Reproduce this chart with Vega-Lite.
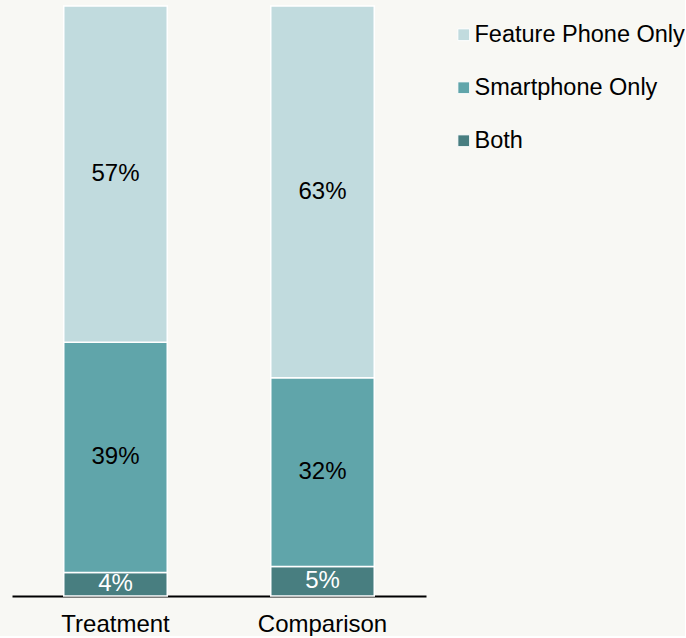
{
  "$schema": "https://vega.github.io/schema/vega-lite/v6.json",
  "width": 414,
  "height": 590,
  "padding": {"left": 12, "top": 5, "right": 0, "bottom": 0},
  "background": "#f8f8f4",
  "config": {
    "view": {"stroke": null},
    "font": "Liberation Sans"
  },
  "data": {
    "values": [
      {"group": "Treatment", "type": "Both", "order": 1, "value": 4},
      {"group": "Treatment", "type": "Smartphone Only", "order": 2, "value": 39},
      {"group": "Treatment", "type": "Feature Phone Only", "order": 3, "value": 57},
      {"group": "Comparison", "type": "Both", "order": 1, "value": 5},
      {"group": "Comparison", "type": "Smartphone Only", "order": 2, "value": 32},
      {"group": "Comparison", "type": "Feature Phone Only", "order": 3, "value": 63}
    ]
  },
  "transform": [
    {"stack": "value", "groupby": ["group"], "sort": [{"field": "order"}], "as": ["y0", "y1"]},
    {"calculate": "(datum.y0 + datum.y1) / 2", "as": "ymid"},
    {"calculate": "datum.value + '%'", "as": "label"}
  ],
  "encoding": {
    "x": {
      "field": "group",
      "type": "nominal",
      "sort": ["Treatment", "Comparison"],
      "scale": {"paddingInner": 0.5, "paddingOuter": 0.25},
      "axis": {
        "title": null,
        "labelAngle": 0,
        "labelFontSize": 24,
        "labelColor": "#000000",
        "labelPadding": 16,
        "ticks": false,
        "domainColor": "#000000",
        "domainWidth": 2
      }
    }
  },
  "layer": [
    {
      "mark": {"type": "bar", "stroke": "#ffffff", "strokeWidth": 1.5},
      "encoding": {
        "y": {"field": "y0", "type": "quantitative", "scale": {"domain": [0, 100], "nice": false}, "axis": null},
        "y2": {"field": "y1"},
        "color": {
          "field": "type",
          "type": "nominal",
          "scale": {
            "domain": ["Feature Phone Only", "Smartphone Only", "Both"],
            "range": ["#c1dbde", "#60a5aa", "#487e80"]
          },
          "legend": {
            "title": null,
            "orient": "none",
            "legendX": 440,
            "legendY": 17,
            "symbolType": "square",
            "symbolSize": 140,
            "symbolStrokeColor": "#ffffff",
            "symbolStrokeWidth": 1,
            "labelFontSize": 23.5,
            "labelLimit": 400,
            "labelColor": "#000000",
            "labelOffset": -1,
            "rowPadding": 28
          }
        }
      }
    },
    {
      "mark": {"type": "text", "fontSize": 24, "baseline": "middle", "align": "center"},
      "encoding": {
        "y": {"field": "ymid", "type": "quantitative"},
        "text": {"field": "label"},
        "color": {
          "condition": {"test": "datum.type === 'Both'", "value": "#ffffff"},
          "value": "#000000"
        }
      }
    }
  ]
}
